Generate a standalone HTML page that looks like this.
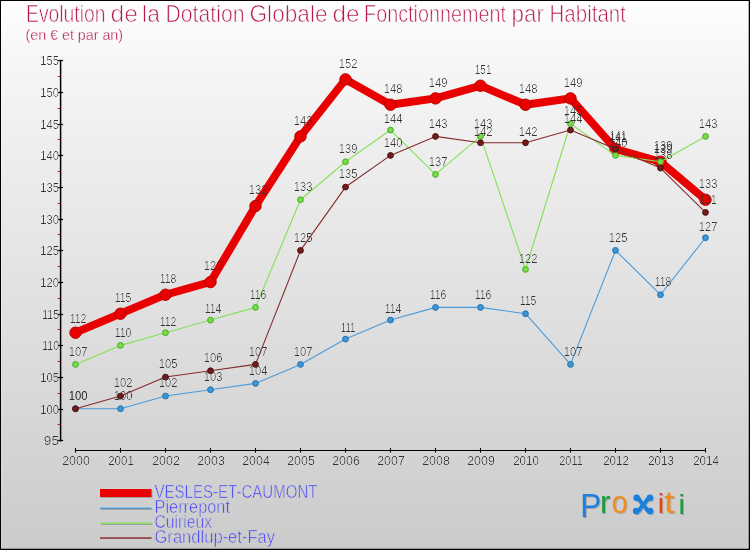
<!DOCTYPE html>
<html lang="fr"><head><meta charset="utf-8">
<title>Evolution de la Dotation Globale de Fonctionnement par Habitant</title>
<style>
html,body{margin:0;padding:0;background:#fff;}
body{width:750px;height:550px;overflow:hidden;font-family:"Liberation Sans",sans-serif;}
#chart{position:absolute;left:0;top:0;width:750px;height:550px;box-sizing:border-box;
 background:linear-gradient(to bottom,#fefefe 0%,#f4f4f4 15%,#e3e3e3 50%,#cbcbcb 100%);}
svg{position:absolute;left:0;top:0;}
text{font-family:"Liberation Sans",sans-serif;stroke:url(#bg);}
.ttl{fill:#b5174f;font-size:23.4px;stroke-width:0.7px;}
.sub{fill:#b5174f;font-size:13.8px;stroke-width:0.3px;}
.lab{fill:#333;font-size:13px;stroke:none;}
.ax{fill:#303030;font-size:13px;stroke:none;}
.leg{fill:#3a3aff;font-size:18px;stroke-width:0.6px;}
.logo text{stroke:none;}
</style></head><body>
<div id="chart">
<svg width="750" height="550" viewBox="0 0 750 550">
<defs>
<linearGradient id="bg" gradientUnits="userSpaceOnUse" x1="0" y1="0" x2="0" y2="550"><stop offset="0" stop-color="#fefefe"/><stop offset="0.15" stop-color="#f4f4f4"/><stop offset="0.5" stop-color="#e3e3e3"/><stop offset="1" stop-color="#cbcbcb"/></linearGradient>
<filter id="sh" x="-20%" y="-20%" width="140%" height="140%"><feDropShadow dx="1" dy="1" stdDeviation="0.7" flood-color="#000" flood-opacity="0.22"/></filter>
<filter id="thin" x="-2%" y="-5%" width="104%" height="110%" color-interpolation-filters="sRGB"><feComponentTransfer><feFuncA type="gamma" exponent="2" amplitude="1" offset="0"/></feComponentTransfer></filter>
</defs>

<rect x="0.5" y="0.5" width="749" height="549" fill="none" stroke="#000" stroke-width="1"/>
<rect x="1.5" y="1.5" width="747" height="547" fill="none" stroke="#fff" stroke-opacity="0.22" stroke-width="1"/>
<path d="M1 548.6H749M748.6 1V549" stroke="#000" stroke-opacity="0.4" stroke-width="0.8" fill="none"/>
<text class="ttl" x="26.0" y="22" textLength="79.5" lengthAdjust="spacingAndGlyphs">Evolution</text>
<text class="ttl" x="110.5" y="22" textLength="27.4" lengthAdjust="spacingAndGlyphs">de</text>
<text class="ttl" x="142.1" y="22" textLength="17.8" lengthAdjust="spacingAndGlyphs">la</text>
<text class="ttl" x="165.5" y="22" textLength="79.0" lengthAdjust="spacingAndGlyphs">Dotation</text>
<text class="ttl" x="249.5" y="22" textLength="78.0" lengthAdjust="spacingAndGlyphs">Globale</text>
<text class="ttl" x="332.5" y="22" textLength="27.0" lengthAdjust="spacingAndGlyphs">de</text>
<text class="ttl" x="364.1" y="22" textLength="141.8" lengthAdjust="spacingAndGlyphs">Fonctionnement</text>
<text class="ttl" x="511.5" y="22" textLength="32.4" lengthAdjust="spacingAndGlyphs">par</text>
<text class="ttl" x="549.5" y="22" textLength="76.4" lengthAdjust="spacingAndGlyphs">Habitant</text>
<text class="sub" x="25.5" y="40" textLength="97.5" lengthAdjust="spacingAndGlyphs">(en € et par an)</text>
<g stroke="#000" fill="none">
<line x1="60.6" y1="60.20" x2="60.6" y2="441.40" stroke-width="1.5"/>
<line x1="58.2" y1="440.50" x2="63.1" y2="440.50" stroke-width="1.25"/>
<line x1="58.2" y1="409.50" x2="63.1" y2="409.50" stroke-width="1.25"/>
<line x1="58.2" y1="377.50" x2="63.1" y2="377.50" stroke-width="1.25"/>
<line x1="58.2" y1="345.50" x2="63.1" y2="345.50" stroke-width="1.25"/>
<line x1="58.2" y1="314.50" x2="63.1" y2="314.50" stroke-width="1.25"/>
<line x1="58.2" y1="282.50" x2="63.1" y2="282.50" stroke-width="1.25"/>
<line x1="58.2" y1="250.50" x2="63.1" y2="250.50" stroke-width="1.25"/>
<line x1="58.2" y1="219.50" x2="63.1" y2="219.50" stroke-width="1.25"/>
<line x1="58.2" y1="187.50" x2="63.1" y2="187.50" stroke-width="1.25"/>
<line x1="58.2" y1="155.50" x2="63.1" y2="155.50" stroke-width="1.25"/>
<line x1="58.2" y1="124.50" x2="63.1" y2="124.50" stroke-width="1.25"/>
<line x1="58.2" y1="92.50" x2="63.1" y2="92.50" stroke-width="1.25"/>
<line x1="58.2" y1="60.50" x2="63.1" y2="60.50" stroke-width="1.25"/>
</g>
<g stroke="#f00" stroke-width="1" fill="none">
<line x1="57.6" y1="424.50" x2="60" y2="424.50"/>
<line x1="57.6" y1="393.50" x2="60" y2="393.50"/>
<line x1="57.6" y1="361.50" x2="60" y2="361.50"/>
<line x1="57.6" y1="329.50" x2="60" y2="329.50"/>
<line x1="57.6" y1="298.50" x2="60" y2="298.50"/>
<line x1="57.6" y1="266.50" x2="60" y2="266.50"/>
<line x1="57.6" y1="234.50" x2="60" y2="234.50"/>
<line x1="57.6" y1="203.50" x2="60" y2="203.50"/>
<line x1="57.6" y1="171.50" x2="60" y2="171.50"/>
<line x1="57.6" y1="139.50" x2="60" y2="139.50"/>
<line x1="57.6" y1="108.50" x2="60" y2="108.50"/>
<line x1="57.6" y1="76.50" x2="60" y2="76.50"/>
</g>
<g filter="url(#thin)">
<text class="ax" x="59.0" y="445.3" text-anchor="end" textLength="15.2" lengthAdjust="spacingAndGlyphs">95</text>
<text class="ax" x="59.0" y="413.6" text-anchor="end" textLength="18.7" lengthAdjust="spacingAndGlyphs">100</text>
<text class="ax" x="59.0" y="382.0" text-anchor="end" textLength="18.7" lengthAdjust="spacingAndGlyphs">105</text>
<text class="ax" x="59.0" y="350.3" text-anchor="end" textLength="16.7" lengthAdjust="spacingAndGlyphs">110</text>
<text class="ax" x="59.0" y="318.6" text-anchor="end" textLength="16.7" lengthAdjust="spacingAndGlyphs">115</text>
<text class="ax" x="59.0" y="287.0" text-anchor="end" textLength="18.7" lengthAdjust="spacingAndGlyphs">120</text>
<text class="ax" x="59.0" y="255.3" text-anchor="end" textLength="18.7" lengthAdjust="spacingAndGlyphs">125</text>
<text class="ax" x="59.0" y="223.6" text-anchor="end" textLength="18.7" lengthAdjust="spacingAndGlyphs">130</text>
<text class="ax" x="59.0" y="192.0" text-anchor="end" textLength="18.7" lengthAdjust="spacingAndGlyphs">135</text>
<text class="ax" x="59.0" y="160.3" text-anchor="end" textLength="18.7" lengthAdjust="spacingAndGlyphs">140</text>
<text class="ax" x="59.0" y="128.6" text-anchor="end" textLength="18.7" lengthAdjust="spacingAndGlyphs">145</text>
<text class="ax" x="59.0" y="97.0" text-anchor="end" textLength="18.7" lengthAdjust="spacingAndGlyphs">150</text>
<text class="ax" x="59.0" y="65.3" text-anchor="end" textLength="18.7" lengthAdjust="spacingAndGlyphs">155</text>
</g>
<g stroke="#000" fill="none">
<line x1="75.00" y1="450.5" x2="706.00" y2="450.5" stroke-width="1.2"/>
<line x1="75.50" y1="448" x2="75.50" y2="452.6" stroke-width="1.1"/>
<line x1="120.50" y1="448" x2="120.50" y2="452.6" stroke-width="1.1"/>
<line x1="165.50" y1="448" x2="165.50" y2="452.6" stroke-width="1.1"/>
<line x1="210.50" y1="448" x2="210.50" y2="452.6" stroke-width="1.1"/>
<line x1="255.50" y1="448" x2="255.50" y2="452.6" stroke-width="1.1"/>
<line x1="300.50" y1="448" x2="300.50" y2="452.6" stroke-width="1.1"/>
<line x1="345.50" y1="448" x2="345.50" y2="452.6" stroke-width="1.1"/>
<line x1="390.50" y1="448" x2="390.50" y2="452.6" stroke-width="1.1"/>
<line x1="435.50" y1="448" x2="435.50" y2="452.6" stroke-width="1.1"/>
<line x1="480.50" y1="448" x2="480.50" y2="452.6" stroke-width="1.1"/>
<line x1="525.50" y1="448" x2="525.50" y2="452.6" stroke-width="1.1"/>
<line x1="570.50" y1="448" x2="570.50" y2="452.6" stroke-width="1.1"/>
<line x1="615.50" y1="448" x2="615.50" y2="452.6" stroke-width="1.1"/>
<line x1="660.50" y1="448" x2="660.50" y2="452.6" stroke-width="1.1"/>
<line x1="705.50" y1="448" x2="705.50" y2="452.6" stroke-width="1.1"/>
</g>
<g filter="url(#thin)">
<text class="ax" x="76.0" y="464.8" text-anchor="middle" textLength="27.6" lengthAdjust="spacingAndGlyphs">2000</text>
<text class="ax" x="121.0" y="464.8" text-anchor="middle" textLength="25.6" lengthAdjust="spacingAndGlyphs">2001</text>
<text class="ax" x="166.0" y="464.8" text-anchor="middle" textLength="27.6" lengthAdjust="spacingAndGlyphs">2002</text>
<text class="ax" x="211.0" y="464.8" text-anchor="middle" textLength="27.6" lengthAdjust="spacingAndGlyphs">2003</text>
<text class="ax" x="256.0" y="464.8" text-anchor="middle" textLength="27.6" lengthAdjust="spacingAndGlyphs">2004</text>
<text class="ax" x="301.0" y="464.8" text-anchor="middle" textLength="27.6" lengthAdjust="spacingAndGlyphs">2005</text>
<text class="ax" x="346.0" y="464.8" text-anchor="middle" textLength="27.6" lengthAdjust="spacingAndGlyphs">2006</text>
<text class="ax" x="391.0" y="464.8" text-anchor="middle" textLength="27.6" lengthAdjust="spacingAndGlyphs">2007</text>
<text class="ax" x="436.0" y="464.8" text-anchor="middle" textLength="27.6" lengthAdjust="spacingAndGlyphs">2008</text>
<text class="ax" x="481.0" y="464.8" text-anchor="middle" textLength="27.6" lengthAdjust="spacingAndGlyphs">2009</text>
<text class="ax" x="526.0" y="464.8" text-anchor="middle" textLength="25.6" lengthAdjust="spacingAndGlyphs">2010</text>
<text class="ax" x="571.0" y="464.8" text-anchor="middle" textLength="23.6" lengthAdjust="spacingAndGlyphs">2011</text>
<text class="ax" x="616.0" y="464.8" text-anchor="middle" textLength="25.6" lengthAdjust="spacingAndGlyphs">2012</text>
<text class="ax" x="661.0" y="464.8" text-anchor="middle" textLength="25.6" lengthAdjust="spacingAndGlyphs">2013</text>
<text class="ax" x="706.0" y="464.8" text-anchor="middle" textLength="25.6" lengthAdjust="spacingAndGlyphs">2014</text>
</g>
<polyline points="75.50,332.73 120.50,313.73 165.50,294.73 210.50,282.07 255.50,206.07 300.50,136.40 345.50,79.40 390.50,104.73 435.50,98.40 480.50,85.73 525.50,104.73 570.50,98.40 615.50,149.07 660.50,161.73 705.50,199.73" fill="none" stroke="#e90000" stroke-width="7.9" stroke-linejoin="round" stroke-linecap="round"/>
<g>
<circle cx="75.50" cy="332.73" r="5.7" fill="#e90000" stroke="#b80000" stroke-width="1"/>
<circle cx="120.50" cy="313.73" r="5.7" fill="#e90000" stroke="#b80000" stroke-width="1"/>
<circle cx="165.50" cy="294.73" r="5.7" fill="#e90000" stroke="#b80000" stroke-width="1"/>
<circle cx="210.50" cy="282.07" r="5.7" fill="#e90000" stroke="#b80000" stroke-width="1"/>
<circle cx="255.50" cy="206.07" r="5.7" fill="#e90000" stroke="#b80000" stroke-width="1"/>
<circle cx="300.50" cy="136.40" r="5.7" fill="#e90000" stroke="#b80000" stroke-width="1"/>
<circle cx="345.50" cy="79.40" r="5.7" fill="#e90000" stroke="#b80000" stroke-width="1"/>
<circle cx="390.50" cy="104.73" r="5.7" fill="#e90000" stroke="#b80000" stroke-width="1"/>
<circle cx="435.50" cy="98.40" r="5.7" fill="#e90000" stroke="#b80000" stroke-width="1"/>
<circle cx="480.50" cy="85.73" r="5.7" fill="#e90000" stroke="#b80000" stroke-width="1"/>
<circle cx="525.50" cy="104.73" r="5.7" fill="#e90000" stroke="#b80000" stroke-width="1"/>
<circle cx="570.50" cy="98.40" r="5.7" fill="#e90000" stroke="#b80000" stroke-width="1"/>
<circle cx="615.50" cy="149.07" r="5.7" fill="#e90000" stroke="#b80000" stroke-width="1"/>
<circle cx="660.50" cy="161.73" r="5.7" fill="#e90000" stroke="#b80000" stroke-width="1"/>
<circle cx="705.50" cy="199.73" r="5.7" fill="#e90000" stroke="#b80000" stroke-width="1"/>
</g>
<polyline points="75.50,408.73 120.50,408.73 165.50,396.06 210.50,389.73 255.50,383.40 300.50,364.40 345.50,339.07 390.50,320.07 435.50,307.40 480.50,307.40 525.50,313.73 570.50,364.40 615.50,250.40 660.50,294.73 705.50,237.73" fill="none" stroke="#4a9bdb" stroke-width="1.1" stroke-linejoin="round" stroke-linecap="round"/>
<g>
<circle cx="75.50" cy="408.73" r="2.9" fill="#3d96d6" stroke="#2272b0" stroke-width="1"/>
<circle cx="120.50" cy="408.73" r="2.9" fill="#3d96d6" stroke="#2272b0" stroke-width="1"/>
<circle cx="165.50" cy="396.06" r="2.9" fill="#3d96d6" stroke="#2272b0" stroke-width="1"/>
<circle cx="210.50" cy="389.73" r="2.9" fill="#3d96d6" stroke="#2272b0" stroke-width="1"/>
<circle cx="255.50" cy="383.40" r="2.9" fill="#3d96d6" stroke="#2272b0" stroke-width="1"/>
<circle cx="300.50" cy="364.40" r="2.9" fill="#3d96d6" stroke="#2272b0" stroke-width="1"/>
<circle cx="345.50" cy="339.07" r="2.9" fill="#3d96d6" stroke="#2272b0" stroke-width="1"/>
<circle cx="390.50" cy="320.07" r="2.9" fill="#3d96d6" stroke="#2272b0" stroke-width="1"/>
<circle cx="435.50" cy="307.40" r="2.9" fill="#3d96d6" stroke="#2272b0" stroke-width="1"/>
<circle cx="480.50" cy="307.40" r="2.9" fill="#3d96d6" stroke="#2272b0" stroke-width="1"/>
<circle cx="525.50" cy="313.73" r="2.9" fill="#3d96d6" stroke="#2272b0" stroke-width="1"/>
<circle cx="570.50" cy="364.40" r="2.9" fill="#3d96d6" stroke="#2272b0" stroke-width="1"/>
<circle cx="615.50" cy="250.40" r="2.9" fill="#3d96d6" stroke="#2272b0" stroke-width="1"/>
<circle cx="660.50" cy="294.73" r="2.9" fill="#3d96d6" stroke="#2272b0" stroke-width="1"/>
<circle cx="705.50" cy="237.73" r="2.9" fill="#3d96d6" stroke="#2272b0" stroke-width="1"/>
</g>
<polyline points="75.50,364.40 120.50,345.40 165.50,332.73 210.50,320.07 255.50,307.40 300.50,199.73 345.50,161.73 390.50,130.07 435.50,174.40 480.50,136.40 525.50,269.40 570.50,123.73 615.50,155.40 660.50,161.73 705.50,136.40" fill="none" stroke="#82e155" stroke-width="1.1" stroke-linejoin="round" stroke-linecap="round"/>
<g>
<circle cx="75.50" cy="364.40" r="2.9" fill="#78dc46" stroke="#48aa2a" stroke-width="1"/>
<circle cx="120.50" cy="345.40" r="2.9" fill="#78dc46" stroke="#48aa2a" stroke-width="1"/>
<circle cx="165.50" cy="332.73" r="2.9" fill="#78dc46" stroke="#48aa2a" stroke-width="1"/>
<circle cx="210.50" cy="320.07" r="2.9" fill="#78dc46" stroke="#48aa2a" stroke-width="1"/>
<circle cx="255.50" cy="307.40" r="2.9" fill="#78dc46" stroke="#48aa2a" stroke-width="1"/>
<circle cx="300.50" cy="199.73" r="2.9" fill="#78dc46" stroke="#48aa2a" stroke-width="1"/>
<circle cx="345.50" cy="161.73" r="2.9" fill="#78dc46" stroke="#48aa2a" stroke-width="1"/>
<circle cx="390.50" cy="130.07" r="2.9" fill="#78dc46" stroke="#48aa2a" stroke-width="1"/>
<circle cx="435.50" cy="174.40" r="2.9" fill="#78dc46" stroke="#48aa2a" stroke-width="1"/>
<circle cx="480.50" cy="136.40" r="2.9" fill="#78dc46" stroke="#48aa2a" stroke-width="1"/>
<circle cx="525.50" cy="269.40" r="2.9" fill="#78dc46" stroke="#48aa2a" stroke-width="1"/>
<circle cx="570.50" cy="123.73" r="2.9" fill="#78dc46" stroke="#48aa2a" stroke-width="1"/>
<circle cx="615.50" cy="155.40" r="2.9" fill="#78dc46" stroke="#48aa2a" stroke-width="1"/>
<circle cx="660.50" cy="161.73" r="2.9" fill="#78dc46" stroke="#48aa2a" stroke-width="1"/>
<circle cx="705.50" cy="136.40" r="2.9" fill="#78dc46" stroke="#48aa2a" stroke-width="1"/>
</g>
<polyline points="75.50,408.73 120.50,396.06 165.50,377.06 210.50,370.73 255.50,364.40 300.50,250.40 345.50,187.07 390.50,155.40 435.50,136.40 480.50,142.73 525.50,142.73 570.50,130.07 615.50,149.07 660.50,168.07 705.50,212.40" fill="none" stroke="#852a2a" stroke-width="1.1" stroke-linejoin="round" stroke-linecap="round"/>
<g>
<circle cx="75.50" cy="408.73" r="2.9" fill="#731c1c" stroke="#4b0e0e" stroke-width="1"/>
<circle cx="120.50" cy="396.06" r="2.9" fill="#731c1c" stroke="#4b0e0e" stroke-width="1"/>
<circle cx="165.50" cy="377.06" r="2.9" fill="#731c1c" stroke="#4b0e0e" stroke-width="1"/>
<circle cx="210.50" cy="370.73" r="2.9" fill="#731c1c" stroke="#4b0e0e" stroke-width="1"/>
<circle cx="255.50" cy="364.40" r="2.9" fill="#731c1c" stroke="#4b0e0e" stroke-width="1"/>
<circle cx="300.50" cy="250.40" r="2.9" fill="#731c1c" stroke="#4b0e0e" stroke-width="1"/>
<circle cx="345.50" cy="187.07" r="2.9" fill="#731c1c" stroke="#4b0e0e" stroke-width="1"/>
<circle cx="390.50" cy="155.40" r="2.9" fill="#731c1c" stroke="#4b0e0e" stroke-width="1"/>
<circle cx="435.50" cy="136.40" r="2.9" fill="#731c1c" stroke="#4b0e0e" stroke-width="1"/>
<circle cx="480.50" cy="142.73" r="2.9" fill="#731c1c" stroke="#4b0e0e" stroke-width="1"/>
<circle cx="525.50" cy="142.73" r="2.9" fill="#731c1c" stroke="#4b0e0e" stroke-width="1"/>
<circle cx="570.50" cy="130.07" r="2.9" fill="#731c1c" stroke="#4b0e0e" stroke-width="1"/>
<circle cx="615.50" cy="149.07" r="2.9" fill="#731c1c" stroke="#4b0e0e" stroke-width="1"/>
<circle cx="660.50" cy="168.07" r="2.9" fill="#731c1c" stroke="#4b0e0e" stroke-width="1"/>
<circle cx="705.50" cy="212.40" r="2.9" fill="#731c1c" stroke="#4b0e0e" stroke-width="1"/>
</g>
<g filter="url(#thin)">
<text class="lab" x="78.1" y="323.1" text-anchor="middle" textLength="16.7" lengthAdjust="spacingAndGlyphs">112</text>
<text class="lab" x="123.1" y="302.0" text-anchor="middle" textLength="16.7" lengthAdjust="spacingAndGlyphs">115</text>
<text class="lab" x="168.1" y="283.0" text-anchor="middle" textLength="16.7" lengthAdjust="spacingAndGlyphs">118</text>
<text class="lab" x="213.1" y="270.4" text-anchor="middle" textLength="18.7" lengthAdjust="spacingAndGlyphs">120</text>
<text class="lab" x="258.1" y="194.4" text-anchor="middle" textLength="18.7" lengthAdjust="spacingAndGlyphs">132</text>
<text class="lab" x="303.1" y="124.7" text-anchor="middle" textLength="18.7" lengthAdjust="spacingAndGlyphs">143</text>
<text class="lab" x="348.1" y="67.7" text-anchor="middle" textLength="18.7" lengthAdjust="spacingAndGlyphs">152</text>
<text class="lab" x="393.1" y="93.0" text-anchor="middle" textLength="18.7" lengthAdjust="spacingAndGlyphs">148</text>
<text class="lab" x="438.1" y="86.7" text-anchor="middle" textLength="18.7" lengthAdjust="spacingAndGlyphs">149</text>
<text class="lab" x="483.1" y="74.0" text-anchor="middle" textLength="16.7" lengthAdjust="spacingAndGlyphs">151</text>
<text class="lab" x="528.1" y="93.0" text-anchor="middle" textLength="18.7" lengthAdjust="spacingAndGlyphs">148</text>
<text class="lab" x="573.1" y="86.7" text-anchor="middle" textLength="18.7" lengthAdjust="spacingAndGlyphs">149</text>
<text class="lab" x="618.1" y="139.5" text-anchor="middle" textLength="16.7" lengthAdjust="spacingAndGlyphs">141</text>
<text class="lab" x="663.1" y="150.0" text-anchor="middle" textLength="18.7" lengthAdjust="spacingAndGlyphs">139</text>
<text class="lab" x="708.1" y="188.0" text-anchor="middle" textLength="18.7" lengthAdjust="spacingAndGlyphs">133</text>
<text class="lab" x="78.1" y="399.9" text-anchor="middle" textLength="18.7" lengthAdjust="spacingAndGlyphs">100</text>
<text class="lab" x="123.1" y="399.9" text-anchor="middle" textLength="18.7" lengthAdjust="spacingAndGlyphs">100</text>
<text class="lab" x="168.1" y="387.3" text-anchor="middle" textLength="18.7" lengthAdjust="spacingAndGlyphs">102</text>
<text class="lab" x="213.1" y="380.9" text-anchor="middle" textLength="18.7" lengthAdjust="spacingAndGlyphs">103</text>
<text class="lab" x="258.1" y="374.6" text-anchor="middle" textLength="18.7" lengthAdjust="spacingAndGlyphs">104</text>
<text class="lab" x="303.1" y="355.6" text-anchor="middle" textLength="18.7" lengthAdjust="spacingAndGlyphs">107</text>
<text class="lab" x="348.1" y="332.4" text-anchor="middle" textLength="14.7" lengthAdjust="spacingAndGlyphs">111</text>
<text class="lab" x="393.1" y="313.4" text-anchor="middle" textLength="16.7" lengthAdjust="spacingAndGlyphs">114</text>
<text class="lab" x="438.1" y="298.6" text-anchor="middle" textLength="16.7" lengthAdjust="spacingAndGlyphs">116</text>
<text class="lab" x="483.1" y="298.6" text-anchor="middle" textLength="16.7" lengthAdjust="spacingAndGlyphs">116</text>
<text class="lab" x="528.1" y="304.9" text-anchor="middle" textLength="16.7" lengthAdjust="spacingAndGlyphs">115</text>
<text class="lab" x="573.1" y="355.6" text-anchor="middle" textLength="18.7" lengthAdjust="spacingAndGlyphs">107</text>
<text class="lab" x="618.1" y="241.6" text-anchor="middle" textLength="18.7" lengthAdjust="spacingAndGlyphs">125</text>
<text class="lab" x="663.1" y="285.9" text-anchor="middle" textLength="16.7" lengthAdjust="spacingAndGlyphs">118</text>
<text class="lab" x="708.1" y="231.0" text-anchor="middle" textLength="18.7" lengthAdjust="spacingAndGlyphs">127</text>
<text class="lab" x="78.1" y="355.6" text-anchor="middle" textLength="18.7" lengthAdjust="spacingAndGlyphs">107</text>
<text class="lab" x="123.1" y="336.6" text-anchor="middle" textLength="16.7" lengthAdjust="spacingAndGlyphs">110</text>
<text class="lab" x="168.1" y="326.0" text-anchor="middle" textLength="16.7" lengthAdjust="spacingAndGlyphs">112</text>
<text class="lab" x="213.1" y="313.4" text-anchor="middle" textLength="16.7" lengthAdjust="spacingAndGlyphs">114</text>
<text class="lab" x="258.1" y="298.6" text-anchor="middle" textLength="16.7" lengthAdjust="spacingAndGlyphs">116</text>
<text class="lab" x="303.1" y="190.9" text-anchor="middle" textLength="18.7" lengthAdjust="spacingAndGlyphs">133</text>
<text class="lab" x="348.1" y="152.9" text-anchor="middle" textLength="18.7" lengthAdjust="spacingAndGlyphs">139</text>
<text class="lab" x="393.1" y="123.4" text-anchor="middle" textLength="18.7" lengthAdjust="spacingAndGlyphs">144</text>
<text class="lab" x="438.1" y="165.6" text-anchor="middle" textLength="18.7" lengthAdjust="spacingAndGlyphs">137</text>
<text class="lab" x="483.1" y="127.6" text-anchor="middle" textLength="18.7" lengthAdjust="spacingAndGlyphs">143</text>
<text class="lab" x="528.1" y="262.7" text-anchor="middle" textLength="18.7" lengthAdjust="spacingAndGlyphs">122</text>
<text class="lab" x="573.1" y="114.9" text-anchor="middle" textLength="18.7" lengthAdjust="spacingAndGlyphs">145</text>
<text class="lab" x="618.1" y="146.6" text-anchor="middle" textLength="18.7" lengthAdjust="spacingAndGlyphs">140</text>
<text class="lab" x="663.1" y="152.9" text-anchor="middle" textLength="18.7" lengthAdjust="spacingAndGlyphs">139</text>
<text class="lab" x="708.1" y="127.6" text-anchor="middle" textLength="18.7" lengthAdjust="spacingAndGlyphs">143</text>
<text class="lab" x="78.1" y="399.9" text-anchor="middle" textLength="18.7" lengthAdjust="spacingAndGlyphs">100</text>
<text class="lab" x="123.1" y="387.3" text-anchor="middle" textLength="18.7" lengthAdjust="spacingAndGlyphs">102</text>
<text class="lab" x="168.1" y="368.3" text-anchor="middle" textLength="18.7" lengthAdjust="spacingAndGlyphs">105</text>
<text class="lab" x="213.1" y="361.9" text-anchor="middle" textLength="18.7" lengthAdjust="spacingAndGlyphs">106</text>
<text class="lab" x="258.1" y="355.6" text-anchor="middle" textLength="18.7" lengthAdjust="spacingAndGlyphs">107</text>
<text class="lab" x="303.1" y="241.6" text-anchor="middle" textLength="18.7" lengthAdjust="spacingAndGlyphs">125</text>
<text class="lab" x="348.1" y="178.3" text-anchor="middle" textLength="18.7" lengthAdjust="spacingAndGlyphs">135</text>
<text class="lab" x="393.1" y="146.6" text-anchor="middle" textLength="18.7" lengthAdjust="spacingAndGlyphs">140</text>
<text class="lab" x="438.1" y="127.6" text-anchor="middle" textLength="18.7" lengthAdjust="spacingAndGlyphs">143</text>
<text class="lab" x="483.1" y="136.0" text-anchor="middle" textLength="18.7" lengthAdjust="spacingAndGlyphs">142</text>
<text class="lab" x="528.1" y="136.0" text-anchor="middle" textLength="18.7" lengthAdjust="spacingAndGlyphs">142</text>
<text class="lab" x="573.1" y="123.4" text-anchor="middle" textLength="18.7" lengthAdjust="spacingAndGlyphs">144</text>
<text class="lab" x="618.1" y="142.4" text-anchor="middle" textLength="16.7" lengthAdjust="spacingAndGlyphs">141</text>
<text class="lab" x="663.1" y="159.3" text-anchor="middle" textLength="18.7" lengthAdjust="spacingAndGlyphs">138</text>
<text class="lab" x="708.1" y="203.6" text-anchor="middle" textLength="16.7" lengthAdjust="spacingAndGlyphs">131</text>
</g>
<rect x="100" y="489.00" width="51.5" height="8.00" fill="#e90000" filter="url(#sh)"/>
<text class="leg" x="154.5" y="498.4" textLength="163.0" lengthAdjust="spacingAndGlyphs">VESLES-ET-CAUMONT</text>
<rect x="100" y="507.60" width="51.5" height="1.40" fill="#4a9bdb" filter="url(#sh)"/>
<text class="leg" x="154.5" y="512.7" textLength="75.5" lengthAdjust="spacingAndGlyphs">Pierrepont</text>
<rect x="100" y="522.60" width="51.5" height="1.40" fill="#82e155" filter="url(#sh)"/>
<text class="leg" x="154.5" y="528.2" textLength="57.5" lengthAdjust="spacingAndGlyphs">Cuirieux</text>
<rect x="100" y="537.30" width="51.5" height="1.40" fill="#852a2a" filter="url(#sh)"/>
<text class="leg" x="154.5" y="542.5" textLength="120.5" lengthAdjust="spacingAndGlyphs">Grandlup-et-Fay</text>
<g class="logo" filter="url(#sh)" font-size="30.5" stroke-linejoin="round" stroke-linecap="round">
<text x="580.2" y="516.8" font-size="33" fill="#1a7fdc" textLength="21" lengthAdjust="spacingAndGlyphs">P</text>
<text x="599.9" y="513.2" fill="#1e9a3c" textLength="10.5" lengthAdjust="spacingAndGlyphs">r</text>
<text x="611.6" y="513.2" fill="#f28c1e" textLength="16.2" lengthAdjust="spacingAndGlyphs">o</text>
<text x="635.6" y="511.5" font-size="26" fill="#1a7fdc" font-weight="bold" style="stroke:#1a7fdc;stroke-width:0.7px" textLength="15.4" lengthAdjust="spacingAndGlyphs">x</text>
<circle cx="636.6" cy="497.8" r="3.25" fill="#1a7fdc"/><circle cx="649.9" cy="497.8" r="3.25" fill="#1a7fdc"/>
<circle cx="636.2" cy="511.1" r="3.25" fill="#1a7fdc"/><circle cx="650" cy="511.1" r="3.25" fill="#1a7fdc"/>
<text x="657.8" y="513.2" font-size="28" fill="#e8401c" textLength="6.4" lengthAdjust="spacingAndGlyphs">i</text>
<text x="664.1" y="513.4" fill="#f28c1e" textLength="10.5" lengthAdjust="spacingAndGlyphs">t</text>
<text x="678.4" y="513.6" font-size="28" fill="#1e9a3c" textLength="6.4" lengthAdjust="spacingAndGlyphs">i</text>
</g>
</svg></div></body></html>
